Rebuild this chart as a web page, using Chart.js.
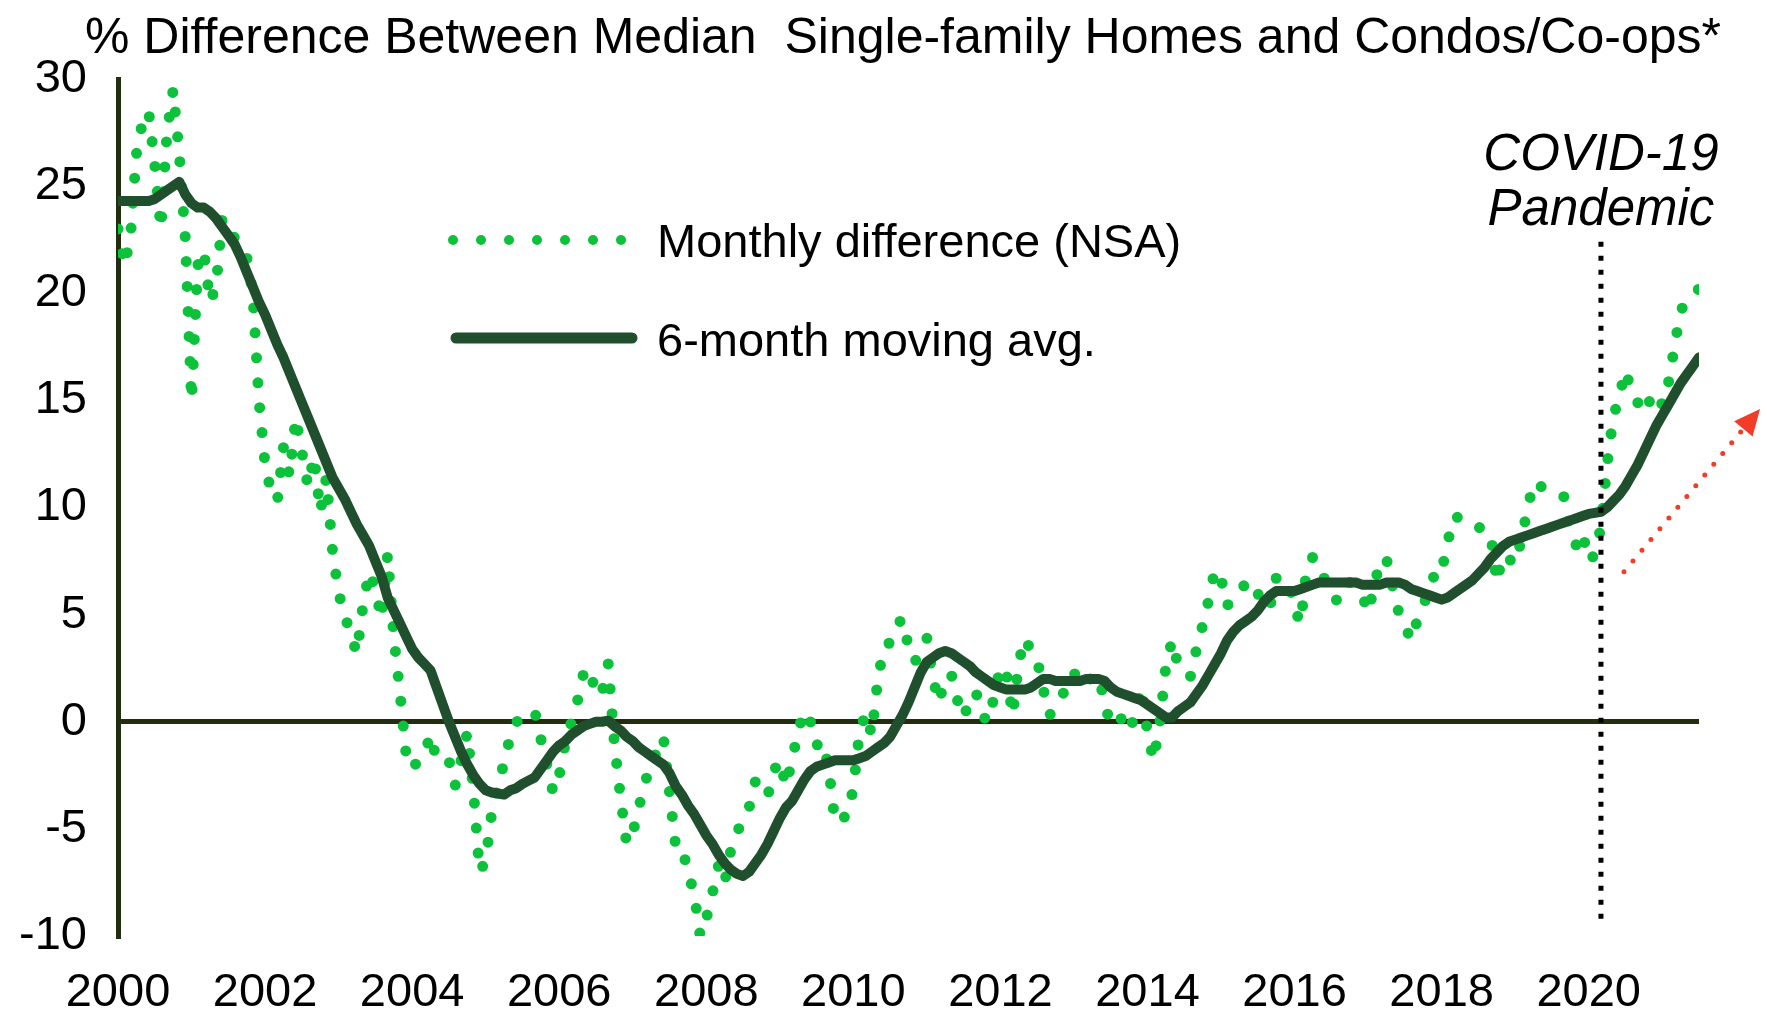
<!DOCTYPE html>
<html><head><meta charset="utf-8">
<script src="https://cdn.jsdelivr.net/npm/chart.js@4.4.1/dist/chart.umd.min.js"></script>
<style>html,body{margin:0;padding:0;background:#fff;}#wrap{width:1767px;height:1016px;position:relative;}</style>
</head><body><div id="wrap"><canvas id="c"></canvas></div>
<script>
// ---------------- DATA ----------------
const startYear = 2000; // first month = Jan 2000, monthly through Jul 2021
const monthlyDiff = [
  23.0, 21.3, 22.5, 26.5, 28.0, 28.5, 26.0, 23.0, 27.5, 29.5, 26.5, 22.5,   // 2000
  15.0, 21.3, 22.0, 19.6, 20.3, 23.5, 22.9, 22.6, 22.3, 21.7, 20.0, 15.0,   // 2001
  12.0, 10.7, 10.3, 12.8, 11.5, 14.2, 12.6, 11.0, 12.4, 9.8, 11.4, 8.0,     // 2002
  6.0, 5.0, 4.0, 3.2, 5.5, 7.0, 6.2, 4.8, 7.8, 4.0, 1.4, -1.5,              // 2003
  -2.2, -1.8, -1.5, -0.6, -1.8, -1.8, -1.8, -3.0, -1.8, -0.5, -3.2, -7.0,   // 2004
  -6.5, -4.2, -3.0, -1.9, -0.7, 0.0, 0.1, 0.3, 0.5, -0.8, -2.0, -3.3,       // 2005
  -2.5, -1.0, 0.0, 1.0, 2.3, 2.5, 1.2, 1.4, 2.7, -1.0, -3.5, -5.7,          // 2006
  -5.2, -4.0, -2.8, -2.1, -1.3, -0.7, -3.3, -5.8, -5.8, -7.0, -8.0, -10.0,  // 2007
  -9.2, -8.0, -6.7, -7.5, -6.0, -5.2, -4.5, -4.0, -2.8, -3.0, -3.5, -2.3,   // 2008
  -1.8, -3.0, -1.8, -0.4, 0.5, 0.0, -1.1, -0.9, -2.2, -4.7, -4.5, -4.4,     // 2009
  -3.1, -0.5, 0.4, -0.6, 2.0, 3.5, 3.7, 4.5, 4.8, 3.5, 2.8, 3.2,            // 2010
  3.9, 2.0, 0.9, 2.1, 2.2, 1.0, 0.2, 1.0, 1.4, 0.3, 0.0, 1.2,               // 2011
  2.6, 2.2, 0.3, 2.8, 3.9, 3.3, 2.9, 1.5, 0.3, 0.65, 1.2, 1.7,              // 2012
  2.3, 1.7, 1.8, 2.1, 2.2, 0.9, -0.2, 0.0, 0.2, -0.4, 0.3, 1.6,             // 2013
  -0.5, -1.8, -0.1, 2.6, 3.8, 2.6, 2.3, 2.1, 3.4, 4.5, 5.7, 7.1,            // 2014
  6.7, 5.4, 5.9, 6.2, 6.4, 6.6, 6.0, 5.3, 5.4, 6.7, 6.6, 6.6,               // 2015
  5.25, 4.6, 7.2, 7.7, 7.2, 6.6, 6.1, 5.6, 6.0, 6.5, 6.2, 5.95,             // 2016
  5.1, 6.3, 7.6, 7.6, 6.3, 5.1, 4.5, 3.8, 4.7, 5.5, 6.0, 7.1,               // 2017
  7.0, 8.4, 9.6, 9.5, 9.45, 9.2, 9.1, 8.9, 8.8, 6.5, 7.8, 7.6,              // 2018
  7.35, 8.5, 9.9, 11.2, 11.0, 10.9, 10.7, 10.6, 10.5, 9.0, 8.2, 8.8,        // 2019
  7.5, 7.8, 9.1, 12.0, 14.2, 15.2, 16.4, 15.4, 14.9, 14.4, 15.0, 15.4,      // 2020
  14.8, 15.8, 17.5, 19.2, 19.6, 20.0, 20.2                                  // 2021
];
const movingAvg = [
  24.3, 24.3, 24.3, 24.3, 24.3, 24.3, 24.4, 24.6, 24.8, 25.0, 25.2, 24.6,   // 2000
  24.2, 24.0, 24.0, 23.8, 23.5, 23.1, 22.7, 22.3, 21.7, 21.0, 20.3, 19.6,   // 2001
  19.0, 18.3, 17.6, 17.0, 16.3, 15.6, 14.9, 14.2, 13.5, 12.8, 12.1, 11.4,   // 2002
  10.9, 10.4, 9.8, 9.2, 8.7, 8.2, 7.5, 6.8, 5.8, 5.2, 4.6, 4.0,             // 2003
  3.4, 3.0, 2.7, 2.4, 1.6, 0.8, 0.0, -0.7, -1.4, -2.0, -2.5, -2.9,          // 2004
  -3.2, -3.3, -3.35, -3.4, -3.2, -3.1, -2.9, -2.75, -2.6, -2.2, -1.8, -1.4, // 2005
  -1.1, -0.9, -0.6, -0.4, -0.2, -0.1, 0.0, 0.0, 0.05, -0.2, -0.4, -0.7,     // 2006
  -0.9, -1.2, -1.4, -1.6, -1.8, -2.0, -2.4, -3.0, -3.4, -3.9, -4.3, -4.8,   // 2007
  -5.3, -5.7, -6.2, -6.6, -6.9, -7.1, -7.2, -7.0, -6.6, -6.2, -5.7, -5.1,   // 2008
  -4.5, -4.0, -3.7, -3.2, -2.7, -2.3, -2.1, -2.0, -1.9, -1.8, -1.8, -1.8,   // 2009
  -1.8, -1.7, -1.6, -1.4, -1.2, -1.0, -0.7, -0.2, 0.3, 0.9, 1.6, 2.3,       // 2010
  2.8, 3.0, 3.2, 3.3, 3.2, 3.0, 2.8, 2.6, 2.3, 2.1, 1.9, 1.7,               // 2011
  1.6, 1.5, 1.5, 1.5, 1.5, 1.6, 1.8, 2.0, 2.0, 1.9, 1.9, 1.9,               // 2012
  1.9, 1.9, 2.0, 2.0, 2.0, 1.9, 1.6, 1.4, 1.3, 1.2, 1.1, 1.0,               // 2013
  0.8, 0.6, 0.4, 0.2, 0.2, 0.5, 0.7, 0.9, 1.3, 1.7, 2.2, 2.7,               // 2014
  3.2, 3.8, 4.2, 4.5, 4.7, 4.9, 5.2, 5.6, 5.9, 6.1, 6.1, 6.1,               // 2015
  6.1, 6.2, 6.3, 6.4, 6.5, 6.5, 6.5, 6.5, 6.5, 6.5, 6.5, 6.4,               // 2016
  6.4, 6.4, 6.4, 6.5, 6.5, 6.5, 6.4, 6.2, 6.1, 6.0, 5.9, 5.8,               // 2017
  5.7, 5.8, 6.0, 6.2, 6.4, 6.6, 6.9, 7.2, 7.6, 7.9, 8.2, 8.4,               // 2018
  8.5, 8.6, 8.7, 8.8, 8.9, 9.0, 9.1, 9.2, 9.3, 9.4, 9.5, 9.6,               // 2019
  9.7, 9.75, 9.8, 10.0, 10.3, 10.6, 11.0, 11.5, 12.0, 12.6, 13.2, 13.8,     // 2020
  14.3, 14.8, 15.3, 15.8, 16.2, 16.6, 17.0                                  // 2021
];
const yearTicks = [2000, 2002, 2004, 2006, 2008, 2010, 2012, 2014, 2016, 2018, 2020];
const valueTicks = [-10, -5, 0, 5, 10, 15, 20, 25, 30];
const seriesNames = ['Monthly difference (NSA)', '6-month moving avg.'];
const titleText = '% Difference Between Median  Single-family Homes and Condos/Co-ops*';
const covidLabel = ['COVID-19', 'Pandemic'];
const covidMarker = [2000 + 242 / 12, 22.4, -9.2];      // x (Mar 2020), top value, bottom value
const trendArrow = [2020.48, 7.0, 2022.33, 14.6];        // x0, y0, x1, y1 in data units

// ---------------- CHART ----------------
const FONT = '"Liberation Sans", Arial, Helvetica, sans-serif';
const GREEN_DOT = '#0bc23a';
const GREEN_DARK = '#1f4f2d';
const AXIS = '#232d10';
const xOf = i => startYear + i / 12;
const monthlyPts = monthlyDiff.map((v, i) => ({x: xOf(i), y: v}));
const maPts = movingAvg.map((v, i) => ({x: xOf(i), y: v}));

const annot = {
  id: 'annot',
  afterDatasetsDraw(chart) {
    const {ctx, scales: {x, y}} = chart;
    ctx.save();
    // COVID vertical dotted line
    const cx = x.getPixelForValue(covidMarker[0]);
    ctx.strokeStyle = '#000';
    ctx.lineWidth = 5;
    ctx.lineCap = 'butt';
    ctx.setLineDash([5, 9]);
    ctx.beginPath();
    ctx.moveTo(cx, y.getPixelForValue(covidMarker[1]));
    ctx.lineTo(cx, y.getPixelForValue(covidMarker[2]));
    ctx.stroke();
    // red dotted arrow
    const ax0 = x.getPixelForValue(trendArrow[0]), ay0 = y.getPixelForValue(trendArrow[1]);
    const ax1 = x.getPixelForValue(trendArrow[2]), ay1 = y.getPixelForValue(trendArrow[3]);
    const ang = Math.atan2(ay1 - ay0, ax1 - ax0);
    const headLen = 26, headW = 12;
    const bx = ax1 - headLen * Math.cos(ang), by = ay1 - headLen * Math.sin(ang);
    ctx.strokeStyle = '#f03c28';
    ctx.fillStyle = '#f03c28';
    ctx.lineWidth = 5;
    ctx.lineCap = 'round';
    ctx.setLineDash([0, 14]);
    ctx.beginPath();
    ctx.moveTo(ax0, ay0);
    ctx.lineTo(bx, by);
    ctx.stroke();
    ctx.setLineDash([]);
    ctx.beginPath();
    ctx.moveTo(ax1, ay1);
    ctx.lineTo(bx + headW * Math.sin(ang), by - headW * Math.cos(ang));
    ctx.lineTo(bx - headW * Math.sin(ang), by + headW * Math.cos(ang));
    ctx.closePath();
    ctx.fill();
    ctx.restore();
  },
  afterDraw(chart) {
    const {ctx, scales: {x}} = chart;
    ctx.save();
    ctx.fillStyle = '#000';
    // title
    ctx.font = `50px ${FONT}`;
    ctx.textAlign = 'center';
    ctx.textBaseline = 'alphabetic';
    ctx.fillText(titleText, 903, 53);
    // legend
    ctx.lineCap = 'round';
    ctx.strokeStyle = GREEN_DOT;
    ctx.lineWidth = 10;
    ctx.setLineDash([0, 28]);
    ctx.beginPath(); ctx.moveTo(453, 240); ctx.lineTo(625, 240); ctx.stroke();
    ctx.setLineDash([]);
    ctx.strokeStyle = GREEN_DARK;
    ctx.lineWidth = 11;
    ctx.beginPath(); ctx.moveTo(456, 338); ctx.lineTo(632, 338); ctx.stroke();
    ctx.font = `47px ${FONT}`;
    ctx.textAlign = 'left';
    ctx.fillText(seriesNames[0], 657, 257);
    ctx.fillText(seriesNames[1], 657, 356);
    // covid text
    const cx = x.getPixelForValue(covidMarker[0]);
    ctx.font = `italic 51px ${FONT}`;
    ctx.textAlign = 'center';
    ctx.fillText(covidLabel[0], cx, 170);
    ctx.fillText(covidLabel[1], cx, 225);
    ctx.restore();
  }
};

new Chart(document.getElementById('c'), {
  type: 'line',
  data: {
    datasets: [
      {label: seriesNames[1], data: maPts, borderColor: GREEN_DARK, borderWidth: 10,
       pointRadius: 0, borderCapStyle: 'round', borderJoinStyle: 'round', tension: 0, fill: false},
      {label: seriesNames[0], data: monthlyPts, borderColor: GREEN_DOT, borderWidth: 11,
       borderDash: [0, 25], borderCapStyle: 'round', borderJoinStyle: 'round',
       pointRadius: 0, tension: 0, fill: false}
    ]
  },
  options: {
    responsive: true, maintainAspectRatio: false, animation: false, devicePixelRatio: 1,
    layout: {padding: {top: 79, right: 68, bottom: 0, left: 0}},
    plugins: {legend: {display: false}, title: {display: false}, tooltip: {enabled: false}},
    scales: {
      x: {
        type: 'linear', min: startYear, max: xOf(monthlyDiff.length - 1),
        afterBuildTicks: s => { s.ticks = yearTicks.map(v => ({value: v})); },
        afterFit: s => { s.height = 80; },
        grid: {display: false, drawTicks: false},
        border: {display: false},
        ticks: {autoSkip: false, maxRotation: 0, minRotation: 0, padding: 29, color: '#000',
                font: {family: FONT, size: 47}, callback: v => String(v)}
      },
      y: {
        min: -10, max: 30,
        afterBuildTicks: s => { s.ticks = valueTicks.map(v => ({value: v})); },
        afterFit: s => { s.width = 118; },
        grid: {drawTicks: false, lineWidth: 5,
               color: c => (c.tick && c.tick.value === 0) ? AXIS : 'rgba(0,0,0,0)'},
        border: {display: true, color: AXIS, width: 5},
        ticks: {padding: 31, color: '#000', font: {family: FONT, size: 47}}
      }
    }
  },
  plugins: [annot]
});
</script>
</body></html>
